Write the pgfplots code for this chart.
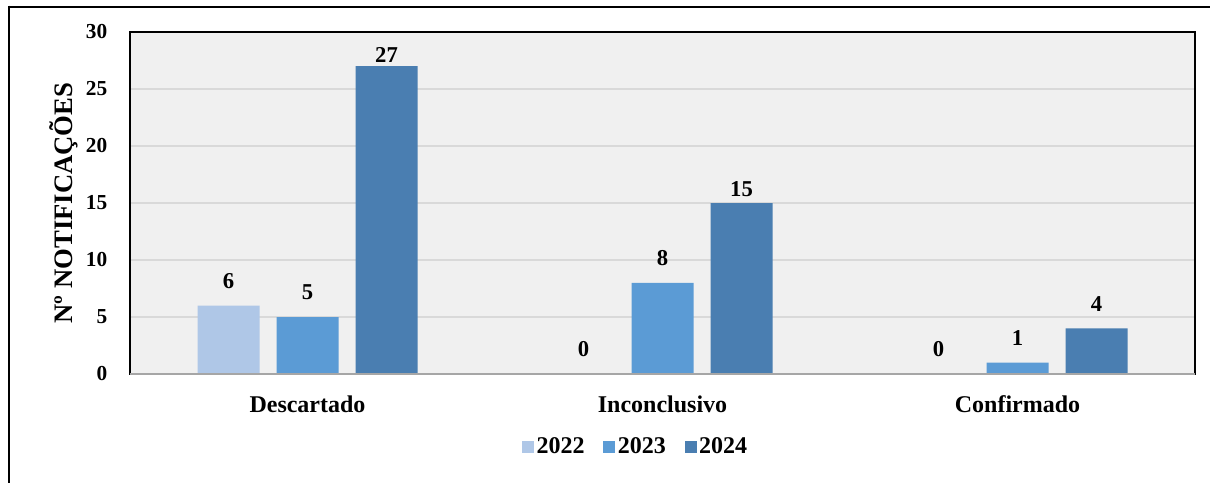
\documentclass[border=0pt]{standalone}
\usepackage{pgfplots}
\pgfplotsset{compat=1.18}
\usepackage{fontspec}
\setmainfont{Liberation Serif}

\definecolor{cA}{HTML}{AFC7E7}
\definecolor{cB}{HTML}{5B9BD5}
\definecolor{cC}{HTML}{4A7EB1}
\definecolor{plotbg}{HTML}{F0F0F0}
\definecolor{gridc}{HTML}{D9D9D9}

\begin{document}
\begin{tikzpicture}
\useasboundingbox (0,0) rectangle (907.5pt,362.25pt);
\fill[white] (0,0) rectangle (907.5pt,362.25pt);
\begin{axis}[
  at={(97.5pt,81.75pt)}, anchor=south west,
  scale only axis,
  width=798.75pt, height=256.5pt,
  ybar=12.75pt, bar width=46.5pt,
  xmin=-0.5, xmax=2.5,
  ymin=0, ymax=30,
  ytick={0,5,...,30},
  xtick={0,1,2},
  xticklabels={Descartado,Inconclusivo,Confirmado},
  major tick length=0pt,
  axis background/.style={fill=plotbg},
  axis line style={black, line width=1.2pt},
  ymajorgrids,
  grid style={gridc, line width=1.1pt},
  /pgf/number format/assume math mode=true,
  yticklabel style={font=\bfseries\fontsize{16}{16}\selectfont, xshift=-13.5pt},
  xticklabel style={font=\bfseries\fontsize{18}{18}\selectfont, yshift=-13pt},
  ylabel={Nº NOTIFICAÇÕES},
  ylabel style={font=\bfseries\fontsize{20}{20}\selectfont, at={(axis description cs:-0.062,0.5)}, anchor=center},
  visualization depends on={y \as \rawy},
  nodes near coords,
  nodes near coords style={font=\bfseries\fontsize{17}{17}\selectfont, text=black,
    anchor=south, inner sep=0pt,
    yshift={ifthenelse(\rawy>=20,2.25pt,ifthenelse(\rawy>=15,4.5pt,12.75pt))}},
  legend columns=3,
  legend style={at={(axis description cs:0.475,-0.213)}, anchor=center, draw=none, fill=none,
    font=\bfseries\fontsize{18}{18}\selectfont,
    /tikz/every even column/.append style={column sep=12pt}},
  legend image code/.code={\fill[#1] (-1.5pt,-4.5pt) rectangle (7.5pt,4.5pt);},
]
\addplot[fill=cA, draw=none] coordinates {(0,6) (1,0) (2,0)};
\addplot[fill=cB, draw=none] coordinates {(0,5) (1,8) (2,1)};
\addplot[fill=cC, draw=none] coordinates {(0,27) (1,15) (2,4)};
\legend{2022,2023,2024}
\draw[gray!70, line width=1.2pt] (rel axis cs:0,0) -- (rel axis cs:1,0);
\end{axis}
% page frame
\draw[black, line width=2.2pt] (6.75pt,357pt) -- (907.5pt,357pt);
\draw[black, line width=1.6pt] (6.75pt,358pt) -- (6.75pt,0pt);
\end{tikzpicture}
\end{document}
